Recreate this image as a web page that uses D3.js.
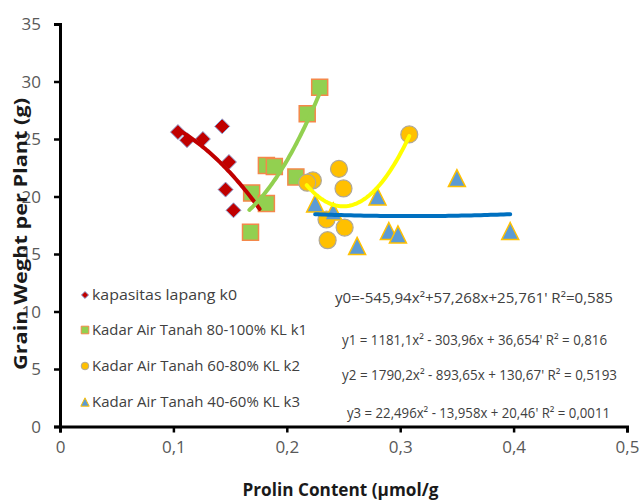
<!DOCTYPE html>
<html>
<head>
<meta charset="utf-8">
<script src="https://cdn.jsdelivr.net/npm/d3@7"></script>
<style>
  body { margin: 0; background: #fff; }
  svg { display: block; }
  text { font-family: "Open Sans", "DejaVu Sans", sans-serif; }
</style>
</head>
<body>
<div id="chart"></div>
<script>
// values
const xTicks = [0, 0.1, 0.2, 0.3, 0.4, 0.5];
const xTickLabels = ["0", "0,1", "0,2", "0,3", "0,4", "0,5"];
const yTicks = [0, 5, 10, 15, 20, 25, 30, 35];
const yTickLabels = ["0", "5", "10", "15", "20", "25", "30", "35"];

const seriesNames = [
    "kapasitas lapang k0",
    "Kadar Air Tanah 80-100% KL k1",
    "Kadar Air Tanah 60-80% KL k2",
    "Kadar Air Tanah 40-60% KL k3"
];

const k0X = [0.104, 0.112, 0.126, 0.143, 0.149, 0.146, 0.153];
const k0Y = [25.6, 24.9, 25.0, 26.1, 23.0, 20.6, 18.8];
const k1X = [0.168, 0.169, 0.182, 0.182, 0.189, 0.208, 0.218, 0.229];
const k1Y = [16.9, 20.3, 19.4, 22.7, 22.6, 21.7, 27.2, 29.5];
const k2X = [0.223, 0.218, 0.246, 0.250, 0.235, 0.251, 0.236, 0.308];
const k2Y = [21.4, 21.2, 22.4, 20.7, 18.0, 17.3, 16.2, 25.4];
const k3X = [0.225, 0.241, 0.280, 0.350, 0.290, 0.298, 0.262, 0.397];
const k3Y = [19.4, 18.7, 20.0, 21.6, 17.0, 16.7, 15.7, 17.0];

// polynomial trendlines (a, b, c) as printed on the chart, and the x span they cover
const trendCoef = [
    [-545.94, 57.268, 25.761],
    [1181.1, -303.96, 36.654],
    [1790.2, -893.65, 130.67],
    [22.496, -13.958, 20.46]
];
const trendFrom = [0.104, 0.167, 0.2175, 0.225];
const trendTo = [0.176, 0.229, 0.308, 0.397];

const equationLabels = [
    "y0=-545,94x²+57,268x+25,761' R²=0,585",
    "y1 = 1181,1x² - 303,96x + 36,654' R² = 0,816",
    "y2 = 1790,2x² - 893,65x + 130,67' R² = 0,5193",
    "y3 = 22,496x² - 13,958x + 20,46' R² = 0,0011"
];

// layout
const W = 643, H = 501;
const margin = { top: 24, left: 60 };
const plotW = 567, plotH = 402.5;

// marker shapes (size = half extent in px)
const diamondType = { draw(ctx, r) { ctx.moveTo(0, -r); ctx.lineTo(r, 0); ctx.lineTo(0, r); ctx.lineTo(-r, 0); ctx.closePath(); } };
const squareType = { draw(ctx, r) { ctx.rect(-r, -r, 2 * r, 2 * r); } };
const circleType = { draw(ctx, r) { ctx.moveTo(r, 0); ctx.arc(0, 0, r, 0, 2 * Math.PI); } };
const triangleType = { draw(ctx, r) { ctx.moveTo(0, -r); ctx.lineTo(r, r); ctx.lineTo(-r, r); ctx.closePath(); } };

const styles = [
    { type: diamondType, size: 7.5, legSize: 3.6, fill: "#C00000", stroke: "#8EA9DB", sw: 1, line: "#C00000" },
    { type: squareType, size: 8, legSize: 3.8, fill: "#92D050", stroke: "#F4884A", sw: 1.5, line: "#92D050" },
    { type: circleType, size: 8.5, legSize: 3.8, fill: "#FFC000", stroke: "#B0A898", sw: 1.2, line: "#FFFF00" },
    { type: triangleType, size: 8.5, legSize: 4.2, fill: "#5B9BD5", stroke: "#FFC000", sw: 1.5, line: "#0070C0" }
];

const seriesX = [k0X, k1X, k2X, k3X];
const seriesY = [k0Y, k1Y, k2Y, k3Y];

const svg = d3.select("#chart")
    .append("svg")
        .attr("width", W)
        .attr("height", H);

const g = svg.append("g")
    .attr("transform", `translate(${margin.left},${margin.top})`);

const x = d3.scaleLinear().domain([0, 0.5]).range([0, plotW]);
const y = d3.scaleLinear().domain([0, 35]).range([plotH, 0]);

// axes
const xAxis = g.append("g")
    .attr("transform", `translate(0,${plotH})`)
    .call(d3.axisBottom(x).tickValues(xTicks).tickSizeOuter(0).tickSize(6)
        .tickFormat((d, i) => xTickLabels[i]));
const yAxis = g.append("g")
    .call(d3.axisLeft(y).tickValues(yTicks).tickSizeOuter(0).tickSize(6)
        .tickFormat((d, i) => yTickLabels[i]));

[xAxis, yAxis].forEach(a => {
    a.select(".domain").attr("stroke", "#000").attr("stroke-width", 3);
    a.selectAll(".tick line").attr("stroke", "#000").attr("stroke-width", 2.5);
    a.selectAll(".tick text")
        .attr("fill", "#595959")
        .style("font-size", "17px")
        .style("font-family", "'Open Sans', sans-serif");
});
xAxis.selectAll(".tick text").attr("y", 14);
yAxis.selectAll(".tick text").attr("x", -19).attr("dy", "0.35em");

// markers
seriesX.forEach((xs, s) => {
    const st = styles[s];
    const pts = xs.map((v, i) => ({ x: v, y: seriesY[s][i] }));
    g.append("g")
        .selectAll("path")
        .data(pts)
        .join("path")
            .attr("transform", d => `translate(${x(d.x)},${y(d.y)})`)
            .attr("d", d3.symbol().type(st.type).size(st.size))
            .attr("fill", st.fill)
            .attr("stroke", st.stroke)
            .attr("stroke-width", st.sw);
});

// trendlines on top
const line = d3.line().x(d => x(d[0])).y(d => y(d[1])).curve(d3.curveLinear);
trendCoef.forEach((c, s) => {
    const steps = 60;
    const pts = d3.range(steps + 1).map(i => {
        const xv = trendFrom[s] + (trendTo[s] - trendFrom[s]) * i / steps;
        return [xv, c[0] * xv * xv + c[1] * xv + c[2]];
    });
    g.append("path")
        .attr("d", line(pts))
        .attr("fill", "none")
        .attr("stroke", styles[s].line)
        .attr("stroke-width", 4)
        .attr("stroke-linecap", "round");
});

// legend
const legY = [295, 330, 366, 402];
const legW = [145, 215, 208, 208];
const legend = svg.append("g");
seriesNames.forEach((name, s) => {
    const st = styles[s];
    legend.append("path")
        .attr("transform", `translate(85,${legY[s]})`)
        .attr("d", d3.symbol().type(st.type).size(st.legSize))
        .attr("fill", st.fill)
        .attr("stroke", st.stroke)
        .attr("stroke-width", 1);
    legend.append("text")
        .attr("x", 92)
        .attr("y", legY[s])
        .attr("dy", "0.35em")
        .attr("textLength", legW[s])
        .attr("lengthAdjust", "spacingAndGlyphs")
        .attr("fill", "#404040")
        .style("font-size", "14px")
        .text(name);
});

// trendline equations
const eqX = [335, 342, 342, 347];
const eqY = [298, 340, 375, 413];
const eqW = [278, 265, 275, 263];
equationLabels.forEach((t, i) => {
    svg.append("text")
        .attr("x", eqX[i])
        .attr("y", eqY[i])
        .attr("dy", "0.35em")
        .attr("textLength", eqW[i])
        .attr("lengthAdjust", "spacingAndGlyphs")
        .attr("fill", "#404040")
        .style("font-size", "14px")
        .text(t);
});

// axis titles
svg.append("text")
    .attr("x", margin.left + x(0.25) - 3)
    .attr("y", 496)
    .attr("text-anchor", "middle")
    .attr("textLength", 196)
    .attr("lengthAdjust", "spacingAndGlyphs")
    .attr("fill", "#1a1a1a")
    .style("font-size", "17px")
    .style("font-weight", "bold")
    .text("Prolin Content (µmol/g");

svg.append("text")
    .attr("transform", "translate(27,234) rotate(-90)")
    .attr("text-anchor", "middle")
    .attr("textLength", 272)
    .attr("lengthAdjust", "spacingAndGlyphs")
    .attr("fill", "#1a1a1a")
    .style("font-size", "18px")
    .style("font-weight", "bold")
    .text("Grain Weght per Plant (g)");
</script>
</body>
</html>
